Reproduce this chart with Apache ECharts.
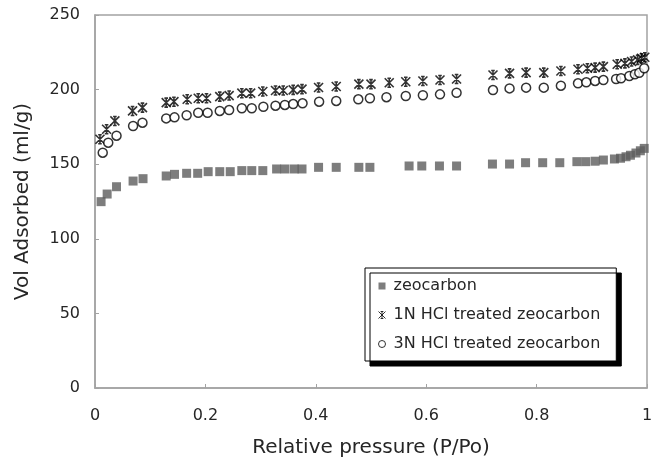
<!DOCTYPE html>
<html>
<head>
<meta charset="utf-8">
<script src="https://cdn.jsdelivr.net/npm/echarts@6/dist/echarts.min.js"></script>
<style>
  html, body { margin: 0; padding: 0; background: #fff; }
  #chart { width: 664px; height: 463px; }
</style>
</head>
<body>
<div id="chart"></div>
<script>
// values
const zeoP = [0.011, 0.022, 0.039, 0.069, 0.087, 0.129, 0.144, 0.166, 0.186, 0.205,
  0.226, 0.245, 0.266, 0.284, 0.304, 0.329, 0.344, 0.361, 0.375, 0.405,
  0.437, 0.478, 0.498, 0.569, 0.592, 0.624, 0.655, 0.720, 0.751, 0.780,
  0.811, 0.842, 0.873, 0.889, 0.906, 0.921, 0.941, 0.952, 0.962, 0.970,
  0.980, 0.988, 0.995]
const zeoV = [124.9, 130.0, 134.9, 138.7, 140.3, 142.1, 143.2, 143.9, 143.9, 145.0,
  145.0, 145.0, 145.7, 145.7, 145.7, 146.8, 146.8, 146.8, 146.8, 147.9,
  147.9, 147.9, 147.9, 148.8, 148.8, 148.8, 148.8, 150.1, 150.1, 151.0,
  151.0, 151.0, 151.7, 151.7, 152.0, 152.8, 153.5, 154.0, 155.0, 156.0,
  157.5, 159.0, 160.6]

const hcl1P = [0.009, 0.021, 0.036, 0.068, 0.086, 0.129, 0.143, 0.167, 0.187, 0.202,
  0.226, 0.243, 0.266, 0.282, 0.304, 0.327, 0.341, 0.359, 0.375, 0.405,
  0.437, 0.478, 0.500, 0.533, 0.563, 0.594, 0.625, 0.655, 0.721, 0.751,
  0.781, 0.813, 0.844, 0.875, 0.892, 0.906, 0.921, 0.946, 0.960, 0.972,
  0.983, 0.990, 0.996]
const hcl1V = [166.7, 173.4, 179.0, 185.7, 187.9, 191.3, 191.9, 193.5, 194.2, 194.2,
  195.3, 196.0, 197.6, 197.6, 198.7, 199.4, 199.4, 199.8, 200.3, 201.4,
  202.1, 203.7, 203.7, 204.6, 205.3, 205.8, 206.4, 207.1, 209.8, 210.9,
  211.4, 211.4, 212.5, 213.6, 214.3, 214.7, 215.4, 217.0, 217.6, 218.8,
  219.9, 221.0, 221.7]

const hcl3P = [0.014, 0.024, 0.039, 0.069, 0.086, 0.129, 0.144, 0.166, 0.187, 0.204,
  0.226, 0.243, 0.266, 0.284, 0.305, 0.327, 0.344, 0.359, 0.376, 0.406,
  0.437, 0.477, 0.498, 0.528, 0.563, 0.594, 0.625, 0.655, 0.721, 0.751,
  0.781, 0.813, 0.844, 0.875, 0.890, 0.906, 0.921, 0.944, 0.953, 0.968,
  0.978, 0.986, 0.995]
const hcl3V = [157.7, 164.4, 169.1, 175.6, 177.8, 180.7, 181.4, 182.8, 184.5, 184.5,
  185.7, 186.3, 187.5, 187.5, 188.5, 189.2, 189.7, 190.3, 190.8, 191.9,
  192.4, 193.5, 194.2, 194.9, 195.7, 196.2, 196.8, 197.9, 199.7, 200.8,
  201.3, 201.3, 202.6, 204.2, 204.9, 205.8, 206.4, 207.1, 207.6, 209.1,
  210.3, 211.3, 214.3]

const seriesNames = ['zeocarbon', '1N HCl treated zeocarbon', '3N HCl treated zeocarbon']

const pair = (xs, ys) => xs.map((x, i) => [x, ys[i]])

const chart = echarts.init(document.getElementById('chart'))

const axisGrey = '#a3a3a3'
const textColor = '#262626'
const starPath = 'path://M0,0L10,10M10,0L0,10M5,0L5,10M3,0L7,0M3,10L7,10'

const option = {
  animation: false,
  backgroundColor: '#fff',
  grid: {
    left: 95,
    right: 17,
    top: 15,
    bottom: 75,
    show: true,
    borderColor: axisGrey,
    borderWidth: 1.5,
  },
  xAxis: {
    type: 'value',
    min: 0,
    max: 1,
    interval: 0.2,
    name: 'Relative pressure (P/Po)',
    nameLocation: 'middle',
    nameGap: 50,
    nameTextStyle: {
      fontFamily: 'DejaVu Sans',
      fontSize: 20,
      color: textColor,
    },
    axisLine: { lineStyle: { color: axisGrey, width: 1.5 } },
    axisTick: { inside: true, length: 4, lineStyle: { color: axisGrey } },
    axisLabel: {
      margin: 20,
      fontFamily: 'DejaVu Sans',
      fontSize: 16,
      color: textColor,
      formatter: (v) => String(Math.round(v * 10) / 10),
    },
    splitLine: { show: false },
  },
  yAxis: {
    type: 'value',
    min: 0,
    max: 250,
    interval: 50,
    name: 'Vol Adsorbed (ml/g)',
    nameLocation: 'middle',
    nameGap: 62,
    nameTextStyle: {
      fontFamily: 'DejaVu Sans',
      fontSize: 20,
      color: textColor,
    },
    axisLine: { show: true, lineStyle: { color: axisGrey, width: 1.5 } },
    axisTick: { show: true, inside: true, length: 4, lineStyle: { color: axisGrey } },
    axisLabel: {
      margin: 15,
      fontFamily: 'DejaVu Sans',
      fontSize: 16,
      color: textColor,
    },
    splitLine: { show: false },
  },
  legend: {
    orient: 'vertical',
    left: 365,
    top: 268,
    padding: [10, 16, 9, 11],
    itemGap: 13,
    itemWidth: 7,
    itemHeight: 7,
    backgroundColor: '#fff',
    borderColor: '#000',
    borderWidth: 1,
    borderRadius: 0,
    shadowColor: '#000',
    shadowBlur: 0,
    shadowOffsetX: 5,
    shadowOffsetY: 5,
    itemStyle: { borderWidth: 1 },
    textStyle: {
      fontFamily: 'DejaVu Sans',
      fontSize: 16,
      color: textColor,
      padding: [0, 0, 0, 3],
    },
    data: seriesNames,
  },
  series: [
    {
      name: seriesNames[0],
      type: 'scatter',
      symbol: 'rect',
      symbolSize: 9,
      itemStyle: { color: '#5c5c5c' },
      data: pair(zeoP, zeoV),
    },
    {
      name: seriesNames[1],
      type: 'scatter',
      symbol: starPath,
      symbolSize: 9,
      itemStyle: { color: 'none', borderColor: '#000', borderWidth: 1.6 },
      data: pair(hcl1P, hcl1V),
    },
    {
      name: seriesNames[2],
      type: 'scatter',
      symbol: 'circle',
      symbolSize: 9,
      itemStyle: { color: '#fff', borderColor: '#000', borderWidth: 1.5 },
      data: pair(hcl3P, hcl3V),
    },
  ],
}

chart.setOption(option)
</script>
</body>
</html>
